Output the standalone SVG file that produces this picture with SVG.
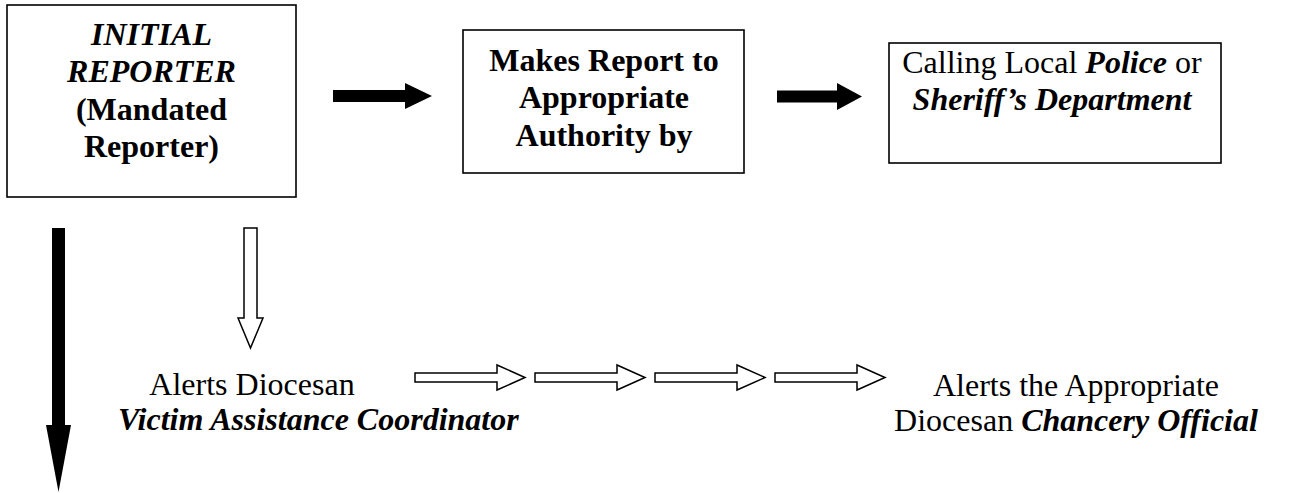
<svg xmlns="http://www.w3.org/2000/svg" width="1306" height="493" viewBox="0 0 1306 493">
<style>
.box{fill:#fff;stroke:#000;stroke-width:1.6}
.t{font-family:"Liberation Serif","Times New Roman",serif;font-size:32px;fill:#000}
.c{text-anchor:middle}
.b{font-weight:bold}
.i{font-style:italic}
.solid{fill:#000;stroke:none}
.hollow{fill:#fff;stroke:#000;stroke-width:1.5;stroke-linejoin:miter}
</style>
<rect width="1306" height="493" fill="#fff"/>
<g id="connectors">
<path class="solid" d="M333,90 H405 V83 L432,96 L405,109 V102 H333 Z"/>
<path class="solid" d="M777,90.5 H837 V83 L862,96.5 L837,110 V102.5 H777 Z"/>
<path class="solid" d="M52,228 H65 V425 H71 L58.5,492 L46,425 H52 Z"/>
<path class="hollow" d="M244,228 H257 V318 H263 L250.5,348 L238,318 H244 Z"/>
<path class="hollow" d="M415,373 H497 V365 L525,377.5 L497,390 V382 H415 Z"/>
<path class="hollow" d="M535,373 H617 V365 L645,377.5 L617,390 V382 H535 Z"/>
<path class="hollow" d="M655,373 H737 V365 L765,377.5 L737,390 V382 H655 Z"/>
<path class="hollow" d="M775,373 H857 V365 L885,377.5 L857,390 V382 H775 Z"/>
</g>
<g id="initial-reporter">
<rect class="box" x="7" y="5" width="289" height="192"/>
<text class="t c b i" x="151.5" y="45">INITIAL</text>
<text class="t c b i" x="151.5" y="82">REPORTER</text>
<text class="t c b" x="151.5" y="120">(Mandated</text>
<text class="t c b" x="151.5" y="157">Reporter)</text>
</g>
<g id="makes-report">
<rect class="box" x="463" y="30" width="281" height="143"/>
<text class="t c b" x="604" y="71">Makes Report to</text>
<text class="t c b" x="604" y="108">Appropriate</text>
<text class="t c b" x="604" y="146">Authority by</text>
</g>
<g id="calling-police">
<rect class="box" x="889" y="43" width="332" height="120"/>
<text class="t c" x="1052" y="73">Calling Local <tspan class="b i">Police</tspan> or</text>
<text class="t c b i" x="1052" y="110">Sheriff’s Department</text>
</g>
<g id="victim-assistance">
<text class="t c" x="252" y="395">Alerts Diocesan</text>
<text class="t b i" x="118" y="430">Victim Assistance Coordinator</text>
</g>
<g id="chancery-official">
<text class="t c" x="1076" y="396">Alerts the Appropriate</text>
<text class="t c" x="1076" y="431">Diocesan <tspan class="b i">Chancery Official</tspan></text>
</g>
</svg>
